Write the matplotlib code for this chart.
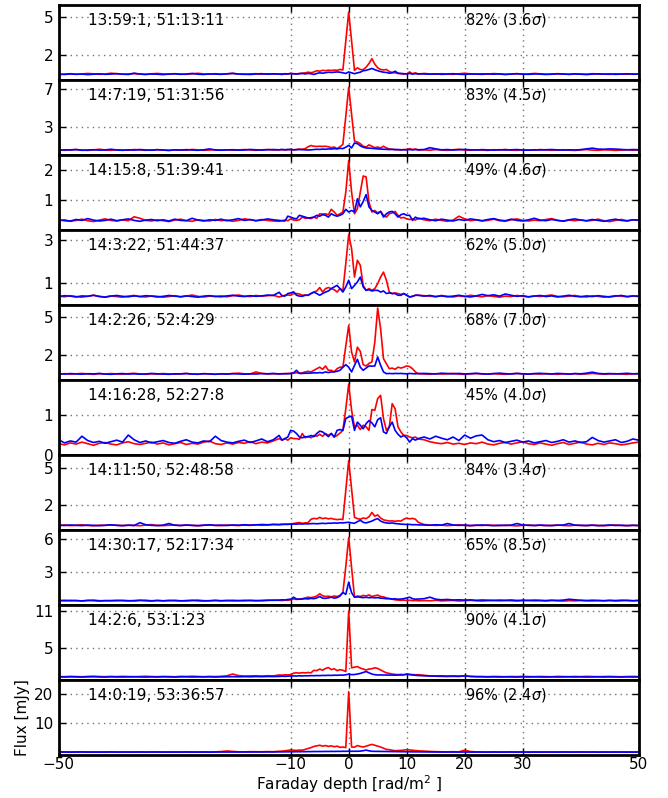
"""Faraday depth spectra for ten sources (red and blue curves), stacked panels."""

import numpy as np
import matplotlib.pyplot as plt

# Faraday depth grid: 1 rad/m^2 steps outside +-12, 0.5 steps in the middle
PHI = np.concatenate([np.arange(-50, -12), np.arange(-12, 12.5, 0.5), np.arange(13, 51)])

LABELS = ["13:59:1, 51:13:11", "14:7:19, 51:31:56", "14:15:8, 51:39:41",
          "14:3:22, 51:44:37", "14:2:26, 52:4:29", "14:16:28, 52:27:8",
          "14:11:50, 52:48:58", "14:30:17, 52:17:34", "14:2:6, 53:1:23",
          "14:0:19, 53:36:57"]
PERCENT = [82, 83, 49, 62, 68, 45, 84, 65, 90, 96]
SIGMA = [3.6, 4.5, 4.6, 5.0, 7.0, 4.0, 3.4, 8.5, 4.1, 2.4]
YTICKS = [[2, 5], [3, 7], [1, 2], [1, 3], [2, 5], [0, 1], [2, 5], [3, 6], [5, 11], [10, 20]]
YLIMS = [(0, 6), (0, 8), (0, 2.5), (0, 3.5), (0, 6), (0, 1.91), (0, 6.1), (0, 6.9), (0, 12), (-0.6, 24.9)]

# each curve: 38 values for -50..-13, 49 values for -12..12, 38 values for 13..50
red_1 = [0.42, 0.45, 0.48, 0.44, 0.46, 0.50, 0.47, 0.43, 0.45, 0.52, 0.48, 0.44, 0.46, 0.49, 0.45, 0.42, 0.47, 0.50, 0.46, 0.44,
         0.48, 0.45, 0.43, 0.47, 0.51, 0.46, 0.44, 0.48, 0.45, 0.47, 0.50, 0.45, 0.43, 0.46, 0.48, 0.44, 0.47, 0.45,
         0.45, 0.47, 0.44, 0.47, 0.50, 0.48, 0.46, 0.50, 0.52, 0.55, 0.60, 0.56, 0.62, 0.72, 0.68, 0.75, 0.72, 0.76, 0.74, 0.77,
         0.75, 0.82, 0.78, 3.10, 5.42, 3.10, 0.75, 0.95, 0.82, 0.80, 1.00, 1.30, 1.68, 1.25, 0.95, 0.82, 0.78, 0.82, 0.65, 0.58,
         0.55, 0.50, 0.48, 0.45, 0.47, 0.62, 0.48, 0.55, 0.45,
         0.50, 0.46, 0.44, 0.48, 0.45, 0.43, 0.47, 0.52, 0.46, 0.44, 0.47, 0.45, 0.49, 0.46, 0.43, 0.45, 0.48, 0.44, 0.46, 0.50,
         0.47, 0.44, 0.45, 0.48, 0.46, 0.43, 0.47, 0.45, 0.44, 0.48, 0.46, 0.45, 0.43, 0.47, 0.45, 0.44, 0.46, 0.45]
blue_1 = [0.44, 0.42, 0.46, 0.43, 0.45, 0.41, 0.44, 0.47, 0.43, 0.45, 0.48, 0.44, 0.42, 0.52, 0.45, 0.43, 0.46, 0.44, 0.41, 0.45,
          0.47, 0.43, 0.45, 0.50, 0.44, 0.42, 0.46, 0.45, 0.43, 0.47, 0.51, 0.45, 0.44, 0.42, 0.46, 0.48, 0.44, 0.47,
          0.45, 0.42, 0.48, 0.45, 0.50, 0.47, 0.45, 0.48, 0.50, 0.46, 0.50, 0.48, 0.42, 0.50, 0.55, 0.52, 0.56, 0.60, 0.58, 0.60,
          0.62, 0.60, 0.55, 0.50, 0.62, 0.55, 0.48, 0.55, 0.60, 0.72, 0.75, 0.82, 0.90, 0.80, 0.72, 0.65, 0.60, 0.58, 0.52, 0.55,
          0.68, 0.52, 0.50, 0.48, 0.46, 0.50, 0.45, 0.48, 0.47,
          0.46, 0.44, 0.47, 0.43, 0.45, 0.48, 0.44, 0.42, 0.46, 0.45, 0.43, 0.47, 0.44, 0.46, 0.42, 0.45, 0.48, 0.44, 0.43, 0.46,
          0.45, 0.42, 0.44, 0.47, 0.45, 0.43, 0.46, 0.44, 0.41, 0.45, 0.47, 0.44, 0.46, 0.43, 0.45, 0.47, 0.44, 0.45]

red_2 = [0.50, 0.47, 0.52, 0.55, 0.49, 0.46, 0.51, 0.58, 0.50, 0.47, 0.53, 0.50, 0.48, 0.55, 0.51, 0.47, 0.50, 0.54, 0.49, 0.46,
         0.52, 0.50, 0.48, 0.56, 0.51, 0.47, 0.50, 0.53, 0.49, 0.52, 0.48, 0.50, 0.55, 0.51, 0.47, 0.52, 0.55, 0.50,
         0.52, 0.55, 0.50, 0.53, 0.56, 0.52, 0.55, 0.60, 0.58, 0.65, 0.85, 0.98, 0.90, 0.88, 0.90, 0.88, 0.90, 0.85, 0.75, 0.82,
         0.65, 0.85, 1.10, 4.10, 7.20, 4.30, 1.45, 1.35, 1.18, 0.90, 0.82, 1.05, 0.90, 0.75, 0.82, 0.72, 0.90, 0.72, 0.62, 0.58,
         0.55, 0.52, 0.50, 0.55, 0.52, 0.65, 0.55, 0.60, 0.50,
         0.52, 0.48, 0.55, 0.50, 0.47, 0.53, 0.58, 0.50, 0.48, 0.52, 0.49, 0.46, 0.53, 0.50, 0.56, 0.49, 0.47, 0.52, 0.50, 0.48,
         0.55, 0.51, 0.47, 0.50, 0.53, 0.48, 0.46, 0.51, 0.55, 0.49, 0.47, 0.52, 0.50, 0.46, 0.49, 0.53, 0.48, 0.50]
blue_2 = [0.48, 0.52, 0.50, 0.55, 0.47, 0.50, 0.53, 0.49, 0.51, 0.58, 0.50, 0.47, 0.52, 0.49, 0.55, 0.50, 0.48, 0.53, 0.50, 0.46,
          0.51, 0.49, 0.54, 0.50, 0.47, 0.52, 0.62, 0.50, 0.48, 0.51, 0.53, 0.49, 0.50, 0.56, 0.52, 0.49, 0.53, 0.55,
          0.52, 0.55, 0.53, 0.56, 0.55, 0.52, 0.54, 0.55, 0.53, 0.52, 0.50, 0.52, 0.55, 0.58, 0.56, 0.60, 0.58, 0.62, 0.60, 0.65,
          0.62, 0.68, 0.65, 0.80, 1.00, 0.72, 1.25, 1.18, 0.95, 0.80, 0.72, 0.70, 0.68, 0.65, 0.62, 0.60, 0.58, 0.57, 0.55, 0.56,
          0.54, 0.55, 0.53, 0.52, 0.55, 0.54, 0.52, 0.55, 0.53,
          0.55, 0.75, 0.62, 0.52, 0.55, 0.50, 0.53, 0.56, 0.52, 0.50, 0.54, 0.51, 0.49, 0.53, 0.50, 0.52, 0.55, 0.50, 0.48, 0.52,
          0.50, 0.53, 0.55, 0.51, 0.49, 0.52, 0.50, 0.54, 0.62, 0.70, 0.60, 0.58, 0.62, 0.60, 0.56, 0.52, 0.55, 0.53]

red_3 = [0.30, 0.33, 0.28, 0.31, 0.35, 0.30, 0.27, 0.32, 0.36, 0.31, 0.29, 0.33, 0.30, 0.43, 0.38, 0.31, 0.29, 0.33, 0.30, 0.27,
         0.32, 0.35, 0.30, 0.28, 0.33, 0.31, 0.29, 0.34, 0.30, 0.32, 0.28, 0.31, 0.36, 0.33, 0.30, 0.34, 0.31, 0.29,
         0.28, 0.30, 0.32, 0.30, 0.36, 0.32, 0.31, 0.33, 0.42, 0.38, 0.39, 0.37, 0.42, 0.38, 0.53, 0.52, 0.53, 0.50, 0.68, 0.59,
         0.48, 0.53, 0.59, 1.25, 2.31, 1.25, 0.53, 0.70, 1.25, 1.79, 1.76, 0.92, 0.59, 0.64, 0.56, 0.61, 0.48, 0.42, 0.53, 0.56,
         0.61, 0.48, 0.39, 0.41, 0.36, 0.34, 0.36, 0.32, 0.39,
         0.33, 0.30, 0.35, 0.31, 0.28, 0.32, 0.45, 0.36, 0.30, 0.33, 0.29, 0.31, 0.35, 0.30, 0.28, 0.33, 0.36, 0.31, 0.29, 0.32,
         0.30, 0.34, 0.37, 0.31, 0.28, 0.32, 0.30, 0.33, 0.29, 0.31, 0.35, 0.30, 0.27, 0.31, 0.34, 0.30, 0.33, 0.31]
blue_3 = [0.33, 0.30, 0.29, 0.34, 0.31, 0.37, 0.32, 0.29, 0.31, 0.35, 0.30, 0.33, 0.36, 0.31, 0.28, 0.32, 0.34, 0.30, 0.33, 0.29,
          0.35, 0.31, 0.30, 0.38, 0.32, 0.29, 0.33, 0.31, 0.35, 0.30, 0.33, 0.37, 0.31, 0.34, 0.30, 0.32, 0.36, 0.33,
          0.31, 0.30, 0.29, 0.45, 0.42, 0.38, 0.36, 0.48, 0.45, 0.42, 0.39, 0.40, 0.42, 0.48, 0.45, 0.50, 0.48, 0.42, 0.53, 0.48,
          0.45, 0.48, 0.53, 0.68, 0.59, 0.64, 0.59, 1.03, 0.76, 0.94, 1.17, 0.76, 0.64, 0.59, 0.53, 0.61, 0.42, 0.53, 0.59, 0.61,
          0.53, 0.42, 0.50, 0.53, 0.48, 0.48, 0.31, 0.42, 0.36,
          0.38, 0.33, 0.30, 0.35, 0.32, 0.29, 0.34, 0.31, 0.36, 0.33, 0.30, 0.34, 0.37, 0.32, 0.30, 0.35, 0.31, 0.29, 0.33, 0.38,
          0.32, 0.30, 0.34, 0.31, 0.29, 0.33, 0.36, 0.32, 0.30, 0.34, 0.31, 0.28, 0.32, 0.35, 0.31, 0.29, 0.33, 0.32]

red_4 = [0.40, 0.37, 0.42, 0.38, 0.35, 0.40, 0.44, 0.39, 0.36, 0.41, 0.38, 0.35, 0.40, 0.43, 0.38, 0.36, 0.41, 0.39, 0.35, 0.38,
         0.42, 0.37, 0.40, 0.45, 0.39, 0.36, 0.40, 0.38, 0.41, 0.37, 0.42, 0.45, 0.40, 0.38, 0.43, 0.40, 0.42, 0.44,
         0.36, 0.40, 0.44, 0.45, 0.44, 0.52, 0.52, 0.50, 0.44, 0.45, 0.44, 0.52, 0.59, 0.64, 0.80, 0.59, 0.75, 0.80, 0.75, 0.70,
         0.59, 0.75, 0.67, 1.92, 3.28, 2.61, 1.29, 2.07, 1.84, 0.90, 0.67, 0.75, 0.67, 0.75, 0.98, 1.29, 1.52, 1.14, 0.59, 0.52,
         0.55, 0.52, 0.48, 0.52, 0.44, 0.36, 0.39, 0.44, 0.44,
         0.42, 0.40, 0.37, 0.43, 0.39, 0.36, 0.41, 0.38, 0.44, 0.40, 0.37, 0.42, 0.39, 0.35, 0.40, 0.38, 0.43, 0.39, 0.36, 0.41,
         0.38, 0.42, 0.45, 0.39, 0.37, 0.40, 0.43, 0.38, 0.36, 0.41, 0.39, 0.35, 0.38, 0.42, 0.40, 0.37, 0.40, 0.38]
blue_4 = [0.38, 0.42, 0.40, 0.36, 0.41, 0.39, 0.44, 0.38, 0.35, 0.40, 0.43, 0.39, 0.37, 0.41, 0.38, 0.42, 0.40, 0.36, 0.39, 0.43,
          0.40, 0.37, 0.41, 0.38, 0.35, 0.40, 0.42, 0.39, 0.37, 0.41, 0.44, 0.40, 0.38, 0.42, 0.39, 0.41, 0.45, 0.43,
          0.58, 0.42, 0.40, 0.52, 0.55, 0.60, 0.44, 0.40, 0.39, 0.44, 0.44, 0.52, 0.59, 0.52, 0.44, 0.52, 0.59, 0.64, 0.75, 0.83,
          0.90, 0.75, 0.59, 0.83, 1.14, 0.75, 0.90, 1.06, 1.29, 0.83, 0.67, 0.70, 0.64, 0.67, 0.67, 0.59, 0.64, 0.52, 0.55, 0.52,
          0.52, 0.44, 0.44, 0.52, 0.44, 0.36, 0.39, 0.44, 0.44,
          0.40, 0.43, 0.38, 0.41, 0.37, 0.40, 0.44, 0.39, 0.36, 0.41, 0.48, 0.42, 0.46, 0.40, 0.50, 0.44, 0.39, 0.42, 0.37, 0.40,
          0.43, 0.38, 0.41, 0.36, 0.40, 0.44, 0.39, 0.37, 0.41, 0.38, 0.42, 0.39, 0.36, 0.40, 0.43, 0.38, 0.41, 0.40]

red_5 = [0.45, 0.48, 0.44, 0.47, 0.50, 0.46, 0.43, 0.48, 0.45, 0.49, 0.46, 0.44, 0.48, 0.51, 0.46, 0.43, 0.47, 0.45, 0.49, 0.46,
         0.44, 0.47, 0.50, 0.45, 0.43, 0.48, 0.46, 0.44, 0.47, 0.45, 0.49, 0.52, 0.47, 0.45, 0.62, 0.50, 0.46, 0.47,
         0.46, 0.48, 0.48, 0.50, 0.50, 0.52, 0.55, 0.53, 0.55, 0.62, 0.67, 0.62, 0.75, 0.88, 1.00, 0.83, 1.10, 0.75, 0.75, 0.62,
         0.88, 1.00, 1.00, 2.70, 4.35, 2.20, 1.42, 2.60, 2.27, 1.20, 1.10, 1.30, 1.42, 3.00, 5.73, 4.08, 1.68, 1.28, 0.88, 0.93,
         0.83, 1.00, 0.93, 1.00, 1.10, 1.05, 0.88, 0.62, 0.48,
         0.46, 0.44, 0.48, 0.45, 0.47, 0.50, 0.45, 0.43, 0.47, 0.49, 0.46, 0.44, 0.48, 0.45, 0.43, 0.47, 0.50, 0.46, 0.44, 0.47,
         0.45, 0.49, 0.46, 0.43, 0.47, 0.45, 0.48, 0.44, 0.46, 0.50, 0.47, 0.44, 0.46, 0.48, 0.45, 0.43, 0.47, 0.46]
blue_5 = [0.47, 0.45, 0.49, 0.46, 0.44, 0.48, 0.46, 0.50, 0.45, 0.43, 0.47, 0.49, 0.45, 0.47, 0.44, 0.46, 0.50, 0.47, 0.45, 0.43,
          0.47, 0.46, 0.49, 0.45, 0.44, 0.48, 0.46, 0.43, 0.47, 0.45, 0.48, 0.46, 0.44, 0.47, 0.45, 0.49, 0.47, 0.50,
          0.46, 0.47, 0.48, 0.47, 0.50, 0.55, 0.75, 0.50, 0.50, 0.52, 0.52, 0.53, 0.55, 0.54, 0.57, 0.54, 0.62, 0.57, 0.62, 0.63,
          0.67, 0.75, 1.00, 1.20, 1.00, 0.62, 1.15, 1.63, 1.00, 0.75, 0.93, 1.10, 1.08, 1.10, 1.82, 1.15, 0.62, 0.48, 0.50, 0.48,
          0.50, 0.49, 0.50, 0.48, 0.47, 0.50, 0.48, 0.47, 0.49,
          0.50, 0.48, 0.46, 0.52, 0.49, 0.47, 0.50, 0.46, 0.48, 0.51, 0.47, 0.45, 0.49, 0.52, 0.48, 0.46, 0.50, 0.47, 0.45, 0.49,
          0.51, 0.47, 0.46, 0.50, 0.48, 0.45, 0.49, 0.47, 0.52, 0.60, 0.50, 0.47, 0.49, 0.46, 0.48, 0.51, 0.47, 0.49]

red_6 = [0.28, 0.25, 0.30, 0.27, 0.32, 0.28, 0.24, 0.29, 0.31, 0.27, 0.25, 0.30, 0.33, 0.28, 0.26, 0.29, 0.32, 0.27, 0.30, 0.25,
         0.28, 0.31, 0.26, 0.29, 0.27, 0.32, 0.35, 0.28, 0.26, 0.30, 0.27, 0.31, 0.29, 0.33, 0.28, 0.32, 0.30, 0.35,
         0.41, 0.37, 0.41, 0.37, 0.43, 0.41, 0.41, 0.39, 0.54, 0.43, 0.47, 0.43, 0.49, 0.47, 0.52, 0.47, 0.54, 0.49, 0.54, 0.45,
         0.49, 0.55, 0.62, 1.17, 1.80, 1.13, 0.71, 0.75, 0.64, 0.75, 0.71, 0.62, 1.15, 1.13, 1.43, 1.51, 0.92, 0.62, 0.71, 1.30,
         1.17, 0.71, 0.58, 0.49, 0.49, 0.45, 0.43, 0.45, 0.40,
         0.38, 0.33, 0.30, 0.28, 0.31, 0.27, 0.29, 0.26, 0.30, 0.28, 0.32, 0.27, 0.25, 0.29, 0.31, 0.27, 0.30, 0.33, 0.28, 0.26,
         0.30, 0.27, 0.24, 0.28, 0.31, 0.26, 0.29, 0.32, 0.27, 0.25, 0.29, 0.26, 0.30, 0.28, 0.25, 0.27, 0.30, 0.32]
blue_6 = [0.38, 0.30, 0.35, 0.32, 0.47, 0.36, 0.31, 0.34, 0.29, 0.33, 0.37, 0.32, 0.50, 0.38, 0.31, 0.35, 0.30, 0.33, 0.36, 0.31,
          0.29, 0.34, 0.38, 0.32, 0.30, 0.35, 0.33, 0.47, 0.36, 0.32, 0.30, 0.34, 0.37, 0.31, 0.35, 0.40, 0.33, 0.38,
          0.49, 0.37, 0.41, 0.45, 0.62, 0.60, 0.54, 0.45, 0.43, 0.46, 0.45, 0.49, 0.46, 0.54, 0.60, 0.58, 0.52, 0.46, 0.54, 0.45,
          0.62, 0.64, 0.62, 0.92, 0.96, 0.98, 0.62, 0.83, 0.75, 0.66, 0.79, 0.87, 0.81, 0.71, 0.89, 0.94, 0.58, 0.54, 0.71, 0.83,
          0.62, 0.52, 0.45, 0.49, 0.43, 0.32, 0.41, 0.37, 0.41,
          0.45, 0.40, 0.47, 0.42, 0.38, 0.45, 0.36, 0.50, 0.42, 0.48, 0.50, 0.38, 0.33, 0.36, 0.31, 0.34, 0.37, 0.32, 0.35, 0.30,
          0.33, 0.36, 0.31, 0.34, 0.38, 0.32, 0.35, 0.31, 0.33, 0.44, 0.36, 0.32, 0.35, 0.38, 0.31, 0.34, 0.40, 0.37]

red_7 = [0.35, 0.38, 0.33, 0.36, 0.40, 0.34, 0.32, 0.37, 0.35, 0.39, 0.36, 0.33, 0.37, 0.35, 0.32, 0.38, 0.41, 0.35, 0.33, 0.36,
         0.38, 0.34, 0.37, 0.35, 0.32, 0.36, 0.39, 0.35, 0.33, 0.37, 0.36, 0.34, 0.38, 0.35, 0.40, 0.36, 0.38, 0.42,
         0.40, 0.42, 0.45, 0.42, 0.48, 0.50, 0.55, 0.58, 0.52, 0.55, 0.58, 0.85, 0.92, 0.88, 1.00, 0.90, 0.95, 0.88, 0.92, 0.85,
         0.82, 0.85, 0.83, 3.20, 5.63, 3.30, 1.00, 0.90, 0.85, 0.95, 0.90, 1.05, 1.40, 1.10, 1.20, 0.95, 0.80, 0.75, 0.70, 0.72,
         0.68, 0.72, 0.70, 0.85, 0.95, 0.88, 0.92, 0.85, 0.60,
         0.42, 0.38, 0.35, 0.37, 0.33, 0.36, 0.39, 0.35, 0.32, 0.36, 0.34, 0.38, 0.35, 0.33, 0.37, 0.34, 0.31, 0.35, 0.38, 0.34,
         0.36, 0.33, 0.35, 0.38, 0.34, 0.32, 0.36, 0.35, 0.33, 0.37, 0.34, 0.32, 0.35, 0.38, 0.34, 0.33, 0.36, 0.34]
blue_7 = [0.36, 0.34, 0.38, 0.35, 0.33, 0.37, 0.35, 0.32, 0.36, 0.39, 0.35, 0.33, 0.36, 0.34, 0.57, 0.40, 0.35, 0.33, 0.37, 0.50,
          0.36, 0.34, 0.38, 0.35, 0.33, 0.36, 0.39, 0.35, 0.37, 0.34, 0.38, 0.36, 0.40, 0.37, 0.39, 0.42, 0.40, 0.43,
          0.42, 0.44, 0.43, 0.45, 0.44, 0.46, 0.45, 0.47, 0.46, 0.48, 0.47, 0.49, 0.50, 0.48, 0.50, 0.52, 0.50, 0.53, 0.52, 0.55,
          0.53, 0.56, 0.55, 0.58, 0.60, 0.55, 0.52, 0.65, 0.77, 0.60, 0.55, 0.62, 0.70, 0.82, 0.90, 0.70, 0.60, 0.55, 0.52, 0.55,
          0.50, 0.48, 0.45, 0.44, 0.42, 0.43, 0.40, 0.41, 0.39,
          0.38, 0.36, 0.40, 0.37, 0.50, 0.38, 0.35, 0.37, 0.34, 0.36, 0.38, 0.35, 0.33, 0.36, 0.34, 0.37, 0.50, 0.38, 0.35, 0.34,
          0.37, 0.35, 0.33, 0.36, 0.38, 0.50, 0.37, 0.35, 0.34, 0.36, 0.33, 0.35, 0.38, 0.34, 0.36, 0.33, 0.35, 0.34]

red_8 = [0.38, 0.35, 0.40, 0.37, 0.34, 0.39, 0.42, 0.37, 0.35, 0.38, 0.36, 0.40, 0.37, 0.34, 0.38, 0.41, 0.36, 0.39, 0.35, 0.37,
         0.40, 0.36, 0.34, 0.38, 0.42, 0.37, 0.35, 0.39, 0.36, 0.38, 0.41, 0.37, 0.35, 0.40, 0.38, 0.36, 0.39, 0.42,
         0.40, 0.38, 0.42, 0.40, 0.45, 0.53, 0.48, 0.52, 0.55, 0.62, 0.69, 0.65, 0.70, 0.80, 1.00, 0.82, 0.75, 0.78, 0.72, 0.80,
         0.75, 0.85, 1.12, 3.50, 6.18, 3.40, 0.69, 0.80, 0.75, 0.85, 0.80, 0.90, 0.75, 0.82, 0.88, 0.75, 0.72, 0.62, 0.55, 0.50,
         0.45, 0.42, 0.40, 0.42, 0.38, 0.41, 0.37, 0.39, 0.36,
         0.38, 0.36, 0.40, 0.35, 0.37, 0.39, 0.34, 0.37, 0.40, 0.36, 0.33, 0.37, 0.39, 0.35, 0.38, 0.36, 0.34, 0.37, 0.40, 0.35,
         0.37, 0.34, 0.38, 0.36, 0.33, 0.37, 0.35, 0.39, 0.36, 0.34, 0.37, 0.35, 0.38, 0.34, 0.36, 0.39, 0.35, 0.37]
blue_8 = [0.37, 0.40, 0.36, 0.38, 0.35, 0.39, 0.37, 0.34, 0.38, 0.36, 0.40, 0.37, 0.35, 0.38, 0.41, 0.36, 0.34, 0.38, 0.36, 0.39,
          0.37, 0.35, 0.38, 0.40, 0.36, 0.34, 0.37, 0.39, 0.36, 0.38, 0.35, 0.37, 0.40, 0.38, 0.36, 0.39, 0.41, 0.40,
          0.42, 0.45, 0.43, 0.48, 0.50, 0.69, 0.52, 0.50, 0.52, 0.55, 0.53, 0.58, 0.55, 0.62, 0.75, 0.60, 0.58, 0.62, 0.69, 0.60,
          0.65, 0.80, 1.12, 0.95, 2.07, 1.10, 0.69, 0.72, 0.68, 0.65, 0.68, 0.64, 0.66, 0.63, 0.65, 0.60, 0.58, 0.55, 0.56, 0.52,
          0.54, 0.50, 0.52, 0.55, 0.62, 0.69, 0.55, 0.50, 0.52,
          0.55, 0.69, 0.50, 0.45, 0.48, 0.43, 0.45, 0.42, 0.44, 0.40, 0.43, 0.41, 0.39, 0.42, 0.40, 0.43, 0.39, 0.41, 0.38, 0.42,
          0.40, 0.38, 0.41, 0.39, 0.42, 0.50, 0.45, 0.40, 0.38, 0.41, 0.39, 0.37, 0.40, 0.38, 0.41, 0.39, 0.37, 0.40]

red_9 = [0.50, 0.48, 0.53, 0.50, 0.47, 0.52, 0.55, 0.50, 0.48, 0.52, 0.49, 0.53, 0.50, 0.47, 0.51, 0.54, 0.50, 0.48, 0.52, 0.50,
         0.47, 0.53, 0.50, 0.55, 0.51, 0.48, 0.52, 0.50, 0.54, 0.62, 0.90, 0.65, 0.58, 0.60, 0.62, 0.58, 0.63, 0.60,
         0.75, 0.72, 0.78, 0.75, 0.80, 1.05, 1.10, 1.05, 1.12, 1.08, 1.15, 1.10, 1.50, 1.45, 1.70, 1.50, 1.80, 1.94, 1.60, 1.75,
         1.45, 1.60, 1.50, 1.30, 11.0, 1.90, 2.00, 2.10, 1.85, 1.70, 1.55, 1.70, 1.75, 1.90, 1.80, 1.55, 1.30, 1.10, 1.00, 0.90,
         0.85, 0.80, 0.85, 0.78, 0.85, 0.80, 0.82, 0.78, 0.80,
         0.70, 0.60, 0.55, 0.52, 0.50, 0.53, 0.50, 0.62, 0.52, 0.49, 0.51, 0.48, 0.52, 0.50, 0.47, 0.51, 0.49, 0.53, 0.50, 0.48,
         0.51, 0.49, 0.47, 0.52, 0.50, 0.48, 0.51, 0.49, 0.53, 0.50, 0.48, 0.50, 0.52, 0.49, 0.47, 0.50, 0.52, 0.49]
blue_9 = [0.45, 0.43, 0.46, 0.44, 0.42, 0.45, 0.47, 0.44, 0.42, 0.46, 0.44, 0.43, 0.45, 0.47, 0.44, 0.42, 0.45, 0.43, 0.46, 0.44,
          0.42, 0.45, 0.47, 0.43, 0.45, 0.44, 0.46, 0.43, 0.45, 0.47, 0.48, 0.46, 0.49, 0.47, 0.50, 0.48, 0.51, 0.50,
          0.52, 0.55, 0.53, 0.56, 0.58, 0.60, 0.58, 0.62, 0.60, 0.63, 0.62, 0.65, 0.64, 0.66, 0.65, 0.68, 0.67, 0.70, 0.68, 0.72,
          0.70, 0.74, 0.72, 0.78, 0.90, 0.80, 0.82, 0.90, 1.00, 1.15, 1.30, 1.10, 0.90, 0.80, 0.75, 0.76, 0.74, 0.75, 0.73, 0.74,
          0.72, 0.75, 0.74, 0.80, 0.88, 0.85, 0.75, 0.70, 0.66,
          0.62, 0.60, 0.58, 0.60, 0.57, 0.59, 0.56, 0.60, 0.52, 0.48, 0.46, 0.44, 0.45, 0.43, 0.46, 0.44, 0.42, 0.45, 0.43, 0.46,
          0.44, 0.42, 0.45, 0.43, 0.44, 0.46, 0.43, 0.45, 0.42, 0.44, 0.46, 0.43, 0.45, 0.44, 0.42, 0.45, 0.43, 0.44]

red_10 = [0.30, 0.35, 0.28, 0.32, 0.38, 0.30, 0.27, 0.33, 0.30, 0.36, 0.31, 0.28, 0.33, 0.30, 0.35, 0.29, 0.32, 0.38, 0.30, 0.27,
          0.33, 0.30, 0.35, 0.31, 0.28, 0.34, 0.30, 0.36, 0.45, 0.65, 0.50, 0.38, 0.35, 0.42, 0.40, 0.38, 0.43, 0.40,
          0.55, 0.60, 0.70, 0.85, 1.00, 0.90, 0.85, 0.95, 0.90, 1.20, 1.50, 1.80, 2.20, 2.40, 2.60, 2.30, 2.50, 2.20, 2.40, 2.10,
          2.30, 1.90, 2.00, 1.80, 20.8, 2.00, 1.95, 2.50, 2.20, 2.00, 2.30, 2.60, 2.90, 2.60, 2.30, 2.00, 1.60, 1.20, 1.10, 0.90,
          0.75, 0.80, 0.85, 0.95, 1.10, 1.00, 0.90, 0.80, 0.70,
          0.60, 0.50, 0.42, 0.38, 0.35, 0.40, 0.36, 0.90, 0.45, 0.35, 0.32, 0.30, 0.34, 0.31, 0.28, 0.33, 0.30, 0.35, 0.29, 0.32,
          0.30, 0.27, 0.33, 0.30, 0.35, 0.31, 0.28, 0.32, 0.30, 0.34, 0.29, 0.31, 0.28, 0.33, 0.30, 0.32, 0.29, 0.31]
blue_10 = [0.28, 0.30, 0.27, 0.29, 0.31, 0.28, 0.30, 0.27, 0.29, 0.31, 0.28, 0.30, 0.29, 0.27, 0.30, 0.28, 0.31, 0.29, 0.27, 0.30,
           0.28, 0.29, 0.31, 0.28, 0.30, 0.29, 0.27, 0.30, 0.32, 0.29, 0.31, 0.30, 0.33, 0.31, 0.34, 0.32, 0.35, 0.34,
           0.36, 0.35, 0.38, 0.37, 0.40, 0.38, 0.41, 0.40, 0.43, 0.42, 0.45, 0.44, 0.47, 0.46, 0.48, 0.47, 0.50, 0.49, 0.52, 0.50,
           0.53, 0.52, 0.55, 0.54, 0.58, 0.55, 0.57, 0.56, 0.60, 0.75, 0.95, 0.70, 0.55, 0.53, 0.52, 0.50, 0.49, 0.48, 0.46, 0.45,
           0.44, 0.42, 0.41, 0.40, 0.39, 0.38, 0.37, 0.36, 0.36,
           0.34, 0.33, 0.32, 0.31, 0.30, 0.32, 0.29, 0.31, 0.28, 0.30, 0.29, 0.27, 0.30, 0.28, 0.29, 0.31, 0.28, 0.30, 0.27, 0.29,
           0.28, 0.30, 0.29, 0.27, 0.30, 0.28, 0.29, 0.31, 0.28, 0.30, 0.27, 0.29, 0.28, 0.30, 0.29, 0.27, 0.28, 0.29]

RED = [red_1, red_2, red_3, red_4, red_5, red_6, red_7, red_8, red_9, red_10]
BLUE = [blue_1, blue_2, blue_3, blue_4, blue_5, blue_6, blue_7, blue_8, blue_9, blue_10]

XTICKS = [-50, -10, 0, 10, 20, 30, 50]

plt.rcParams["font.family"] = "DejaVu Sans"
plt.rcParams["axes.linewidth"] = 2
plt.rcParams["mathtext.default"] = "regular"

fig = plt.figure(figsize=(6.68, 7.98), dpi=100)
left, right = 0.0879, 0.9561
top, bottom = 0.9941, 0.0543
n = len(RED)
h = (top - bottom) / n

for i in range(n):
    ax = fig.add_axes([left, top - (i + 1) * h, right - left, h])
    ax.plot(PHI, RED[i], color="r", lw=1.2)
    ax.plot(PHI, BLUE[i], color="b", lw=1.2)
    ax.set_xlim(-50, 50)
    ax.set_ylim(*YLIMS[i])
    ax.set_xticks(XTICKS)
    ax.set_yticks(YTICKS[i])
    ax.grid(True, color="0.45", linestyle=(0, (1, 3)), linewidth=1)
    ax.tick_params(direction="in", top=True, right=True, length=5, width=1,
                   labelsize=11, pad=4)
    ax.tick_params(axis="x", pad=1.5)
    ax.text(0.051, 0.79, LABELS[i], transform=ax.transAxes, fontsize=11,
            va="center", ha="left")
    ax.text(0.70, 0.79, r"%d$\%%$ (%.1f$\mathit{\sigma}$)" % (PERCENT[i], SIGMA[i]),
            transform=ax.transAxes, fontsize=10.5, va="center", ha="left")
    if i < n - 1:
        ax.tick_params(labelbottom=False)
    else:
        ax.set_xlabel(r"Faraday depth [rad/m$^2$ ]", fontsize=11, va="top")
        ax.xaxis.set_label_coords(0.5, -0.25)
        ax.set_ylabel("Flux [mJy]", fontsize=11)
        ax.yaxis.set_label_coords(-0.05, 0.5)

fig.savefig("out.png", dpi=100)
